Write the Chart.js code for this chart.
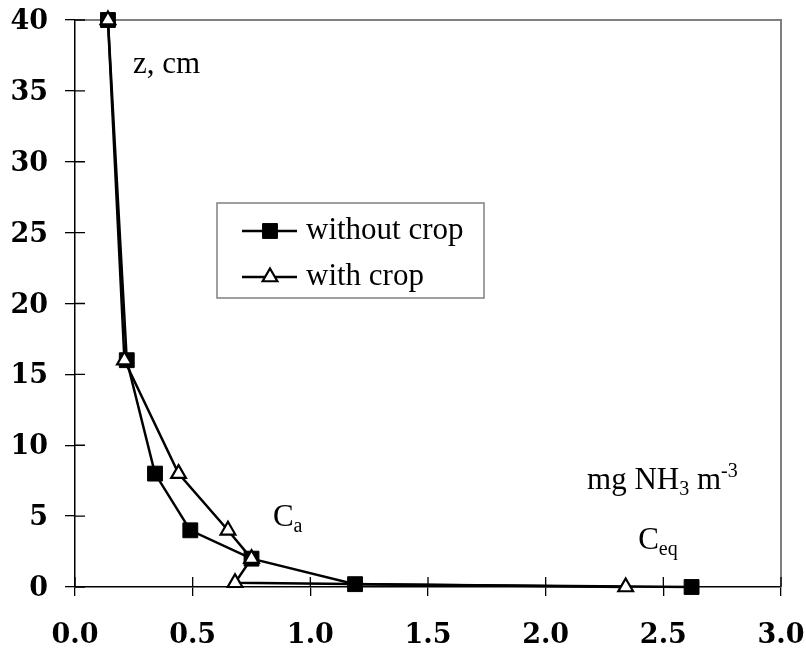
<!DOCTYPE html>
<html>
<head>
<meta charset="utf-8">
<script src="https://cdn.jsdelivr.net/npm/chart.js@4.4.0/dist/chart.umd.min.js"></script>
<style>
    html, body { margin: 0; padding: 0; background: #fff; }
</style>
</head>
<body>
<canvas id="nh3Chart" width="806" height="652"></canvas>
<script>
// Data (concentration vs height)
const withoutCropX = [0.14, 0.22, 0.34, 0.49, 0.75, 1.19, 2.62];
const withoutCropZ = [40, 16, 8, 4, 2, 0.2, 0];
const withCropX = [0.14, 0.21, 0.44, 0.65, 0.75, 0.68, 2.34];
const withCropZ = [40, 16, 8, 4, 2, 0.3, 0];
const seriesNames = ['without crop', 'with crop'];
const xTicks = [0, 0.5, 1, 1.5, 2, 2.5, 3];
const yTicks = [0, 5, 10, 15, 20, 25, 30, 35, 40];

function toPoints(xs, ys) {
    return xs.map(function(x, i) { return { x: x, y: ys[i] }; });
}

const tickFont = { family: '"DejaVu Serif", serif', size: 27, weight: 'bold' };
const textFont = '31px "Liberation Serif", "Times New Roman", serif';
const smallFont = '20px "Liberation Serif", "Times New Roman", serif';

// draw text with subscript / superscript pieces
function drawRich(ctx, parts, x, y) {
    parts.forEach(function(p) {
        ctx.font = p.pos ? smallFont : textFont;
        let dy = 0;
        if (p.pos === 'sub') dy = 6;
        if (p.pos === 'sup') dy = -12;
        ctx.fillText(p.t, x, y + dy);
        x += ctx.measureText(p.t).width;
    });
}

// grey frame on top/right plus tick marks pointing inside
const framePlugin = {
    id: 'frame',
    beforeDatasetsDraw(chart) {
        const ctx = chart.ctx;
        const a = chart.chartArea;
        const xs = chart.scales.x;
        const ys = chart.scales.y;
        ctx.save();
        ctx.strokeStyle = '#808080';
        ctx.lineWidth = 2;
        ctx.beginPath();
        ctx.moveTo(a.left, a.top);
        ctx.lineTo(a.right, a.top);
        ctx.lineTo(a.right, a.bottom);
        ctx.stroke();
        ctx.strokeStyle = '#000';
        ctx.lineWidth = 1.3;
        ctx.beginPath();
        xTicks.forEach(function(v) {
            const px = xs.getPixelForValue(v);
            ctx.moveTo(px, a.bottom);
            ctx.lineTo(px, a.bottom - 10);
        });
        yTicks.forEach(function(v) {
            const py = ys.getPixelForValue(v);
            ctx.moveTo(a.left, py);
            ctx.lineTo(a.left + 10, py);
        });
        ctx.stroke();
        ctx.restore();
    }
};

// legend box inside the plot and the text labels
const notesPlugin = {
    id: 'notes',
    afterDraw(chart) {
        const ctx = chart.ctx;
        const xs = chart.scales.x;
        const ys = chart.scales.y;
        ctx.save();
        ctx.fillStyle = '#000';
        ctx.textBaseline = 'alphabetic';
        ctx.textAlign = 'left';

        drawRich(ctx, [{ t: 'z, cm' }], xs.getPixelForValue(0.246), ys.getPixelForValue(36.26));
        drawRich(ctx, [{ t: 'C' }, { t: 'a', pos: 'sub' }], xs.getPixelForValue(0.841), ys.getPixelForValue(4.3));
        drawRich(ctx, [{ t: 'mg NH' }, { t: '3', pos: 'sub' }, { t: ' m' }, { t: '-3', pos: 'sup' }],
            xs.getPixelForValue(2.176), ys.getPixelForValue(6.91));
        drawRich(ctx, [{ t: 'C' }, { t: 'eq', pos: 'sub' }], xs.getPixelForValue(2.393), ys.getPixelForValue(2.68));

        // legend
        ctx.strokeStyle = '#808080';
        ctx.lineWidth = 1.5;
        ctx.strokeRect(217, 203, 267, 95);
        const rows = [231, 277];
        chart.data.datasets.forEach(function(ds, i) {
            const y = rows[i];
            ctx.strokeStyle = '#000';
            ctx.lineWidth = 2.5;
            ctx.beginPath();
            ctx.moveTo(242, y);
            ctx.lineTo(297, y);
            ctx.stroke();
            ctx.fillStyle = ds.pointBackgroundColor;
            ctx.strokeStyle = ds.pointBorderColor;
            ctx.lineWidth = ds.pointBorderWidth;
            Chart.helpers.drawPoint(ctx, { pointStyle: ds.pointStyle, radius: ds.pointRadius, rotation: 0, borderWidth: ds.pointBorderWidth }, 270, y);
            ctx.fillStyle = '#000';
            ctx.font = textFont;
            ctx.fillText(ds.label, 306, y + 8);
        });
        ctx.restore();
    }
};

const ctx = document.getElementById('nh3Chart').getContext('2d');
const nh3Chart = new Chart(ctx, {
    type: 'line',
    data: {
        datasets: [{
            label: seriesNames[0],
            data: toPoints(withoutCropX, withoutCropZ),
            borderColor: '#000',
            borderWidth: 2.5,
            pointStyle: 'rect',
            pointRadius: 10.5,
            pointBackgroundColor: '#000',
            pointBorderColor: '#000',
            pointBorderWidth: 1,
            tension: 0,
            clip: false,
            order: 2
        }, {
            label: seriesNames[1],
            data: toPoints(withCropX, withCropZ),
            borderColor: '#000',
            borderWidth: 2.5,
            pointStyle: 'triangle',
            pointRadius: 8.5,
            pointBackgroundColor: '#fff',
            pointBorderColor: '#000',
            pointBorderWidth: 2.2,
            tension: 0,
            clip: false,
            order: 1
        }]
    },
    options: {
        responsive: false,
        devicePixelRatio: 1,
        animation: false,
        layout: { padding: { top: 20, right: 25, left: 0, bottom: 0 } },
        plugins: {
            legend: { display: false },
            tooltip: { enabled: false }
        },
        scales: {
            x: {
                type: 'linear',
                min: 0,
                max: 3,
                afterFit: function(scale) {
                    scale.height = 65;
                    scale.paddingLeft = 0;
                    scale.paddingRight = 0;
                },
                afterBuildTicks: function(scale) {
                    scale.ticks = xTicks.map(function(v) { return { value: v }; });
                },
                ticks: {
                    color: '#000',
                    font: tickFont,
                    padding: 24,
                    maxRotation: 0,
                    callback: function(v) { return Number(v).toFixed(1); }
                },
                grid: { drawOnChartArea: false, color: '#000', tickLength: 9, lineWidth: 1.3 },
                border: { color: '#000', width: 1.5 }
            },
            y: {
                type: 'linear',
                min: 0,
                max: 40,
                afterFit: function(scale) {
                    scale.width = 75;
                    scale.paddingTop = 0;
                    scale.paddingBottom = 0;
                },
                afterBuildTicks: function(scale) {
                    scale.ticks = yTicks.map(function(v) { return { value: v }; });
                },
                ticks: {
                    color: '#000',
                    font: tickFont,
                    padding: 17,
                    labelOffset: 2,
                    callback: function(v) { return String(v); }
                },
                grid: { drawOnChartArea: false, color: '#000', tickLength: 10, lineWidth: 1.3 },
                border: { color: '#000', width: 1.5 }
            }
        }
    },
    plugins: [framePlugin, notesPlugin]
});
</script>
</body>
</html>
